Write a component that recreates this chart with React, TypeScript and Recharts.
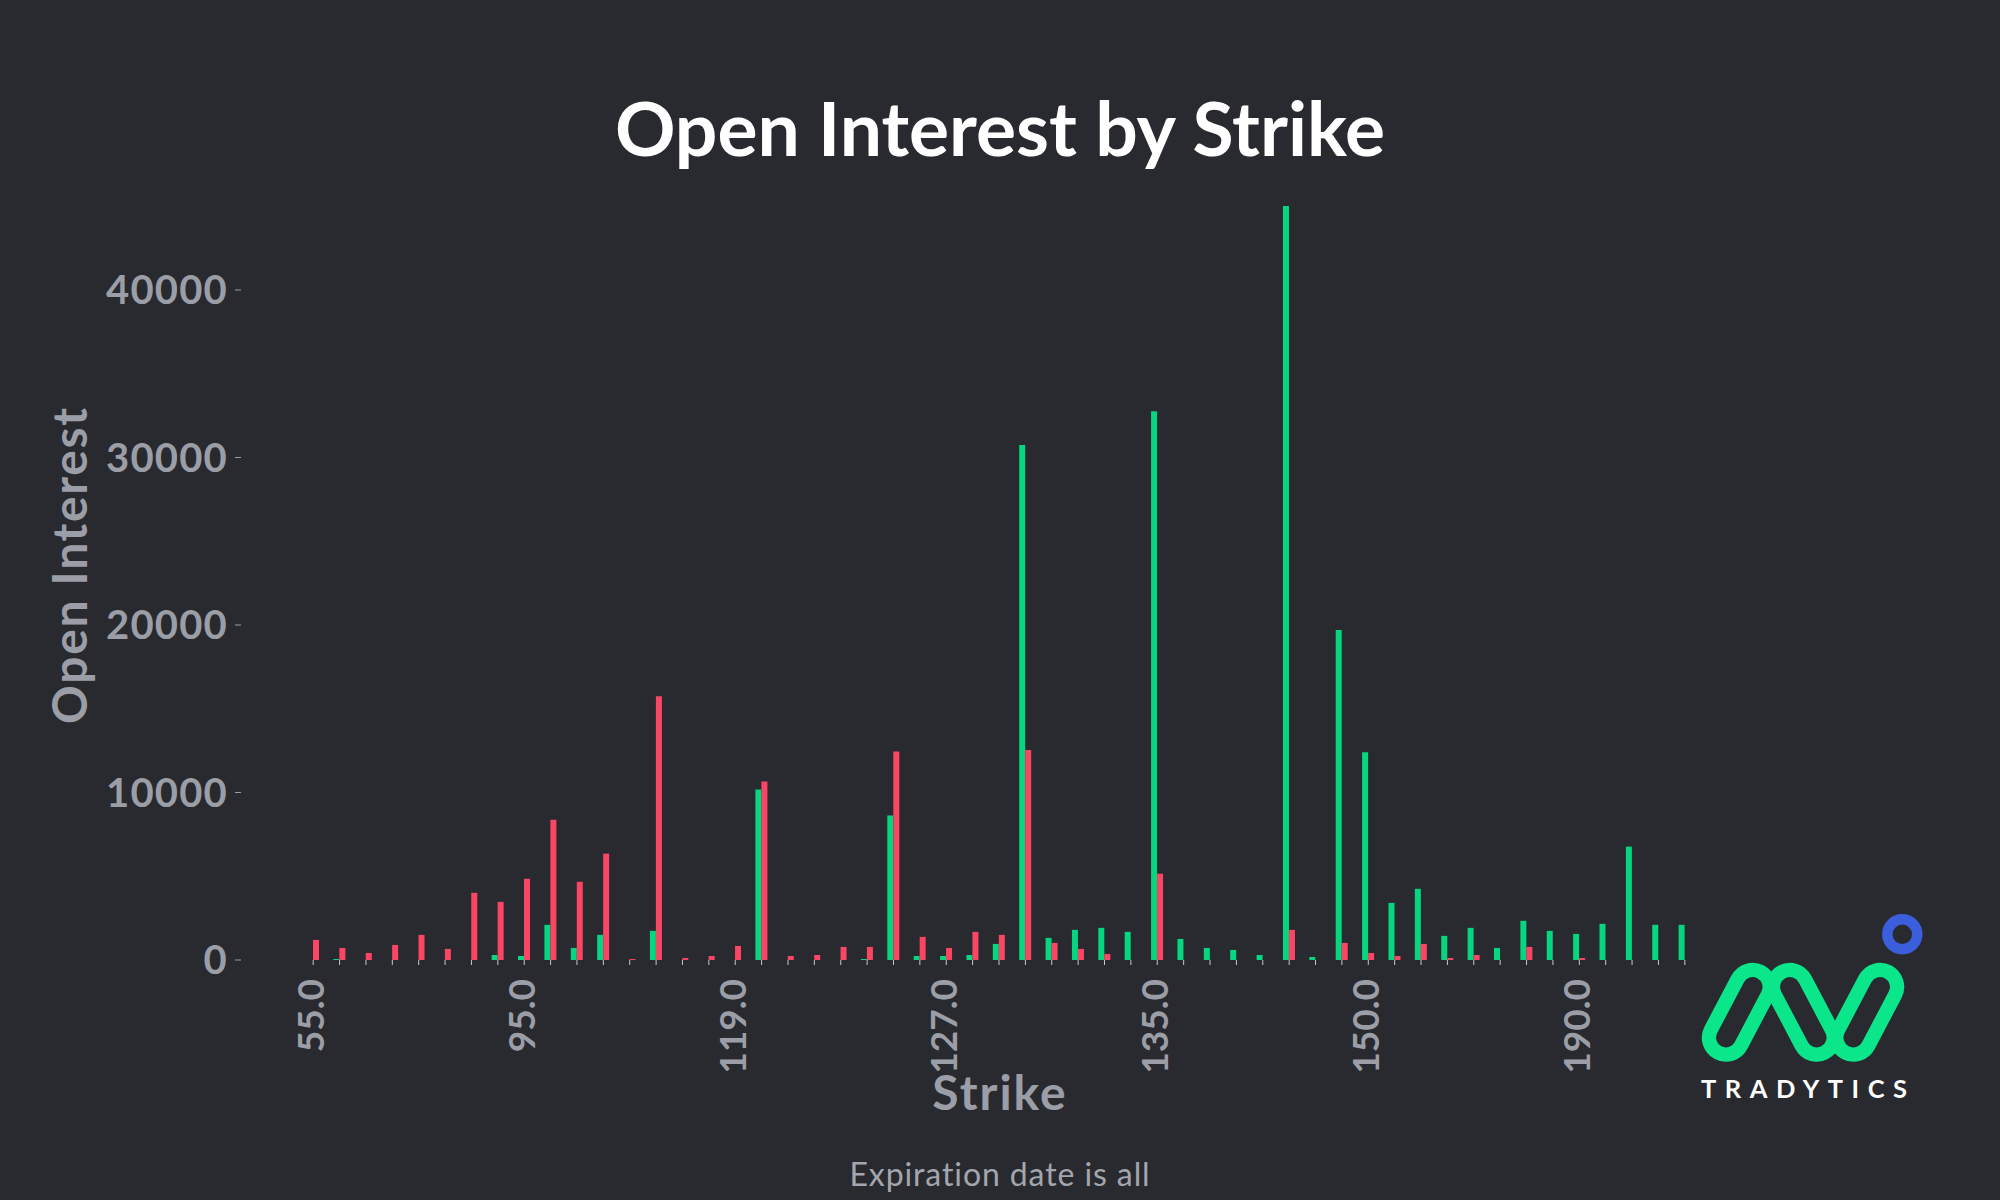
import { BarChart, Bar, XAxis, YAxis } from "recharts"

// strikes on the category axis, one entry per bar pair
const strikes = [
    55, 60, 65, 70, 75, 80, 85, 90, 95, 100, 105, 110, 112, 115, 117, 118, 119,
    120, 121, 122, 123, 124, 125, 126, 127, 128, 129, 130, 131, 132, 133, 134, 135,
    136, 137, 138, 139, 140, 142, 145, 150, 155, 160, 165, 170, 175, 180, 185, 190,
    195, 200, 205, 210,
]

const callOI = [
    0, 60, 0, 0, 0, 0, 0, 300, 240, 2100, 720, 1500, 0, 1740, 0, 0, 0,
    10180, 0, 0, 0, 60, 8620, 240, 240, 300, 960, 30750, 1320, 1800, 1920, 1680, 32760,
    1260, 720, 600, 300, 45010, 180, 19700, 12410, 3410, 4250, 1440, 1920, 720, 2340, 1740, 1560,
    2160, 6770, 2100, 2100,
]

const putOI = [
    1200, 720, 420, 900, 1500, 660, 4010, 3470, 4850, 8380, 4670, 6350, 60, 15750, 120, 240, 840,
    10660, 240, 300, 780, 780, 12450, 1380, 720, 1680, 1500, 12540, 1020, 660, 360, 0, 5150,
    0, 0, 0, 0, 1800, 0, 1020, 420, 240, 960, 120, 300, 0, 780, 0, 120,
    0, 0, 0, 0,
]

const yTicks = [0, 10000, 20000, 30000, 40000]
const labelEvery = 8

const rows = strikes.map((strike, i) => ({ strike, calls: callOI[i], puts: putOI[i] }))

const BG = "#292a2f"
const GREEN = "#06d67f"
const RED = "#fa4565"
const GREY = "#9b9ea6"
const FONT = "Lato, 'Open Sans', sans-serif"

function StrikeTick(props: any) {
    const { x, y, payload, index } = props
    if (index % labelEvery !== 0) return <g />
    return (
        <g transform={`translate(${x},${y})`}>
            <text
                x={-12}
                y={0}
                dy="0.3em"
                textAnchor="end"
                transform="rotate(-90)"
                fill={GREY}
                fontSize={37}
                fontWeight={700}
                fontFamily={FONT}
            >
                {Number(payload.value).toFixed(1)}
            </text>
        </g>
    )
}

function Logo() {
    const pill = { width: 91.3, height: 34, rx: 17, fill: "none", stroke: "#0be68a", strokeWidth: 14.3 }
    return (
        <g>
            <rect {...pill} x={-45.65} y={-17} transform="translate(1739.3,1012.3) rotate(-62.2)" />
            <rect {...pill} x={-45.65} y={-17} transform="translate(1803.3,1012.3) rotate(62.2)" />
            <rect {...pill} x={-45.65} y={-17} transform="translate(1866.7,1012.3) rotate(-62.2)" />
            <circle cx={1902.3} cy={934.3} r={15} fill="none" stroke="#3b5fdc" strokeWidth={10.5} />
            <text
                x={1701}
                y={1098.3}
                fill="#ffffff"
                fontSize={25.5}
                fontWeight={700}
                fontFamily={FONT}
                textLength={206}
                lengthAdjust="spacing"
            >
                TRADYTICS
            </text>
        </g>
    )
}

export default function App() {
    return (
        <div style={{ position: "absolute", left: 0, top: 0, width: 2000, height: 1200, background: BG, overflow: "hidden" }}>
            <BarChart
                width={2000}
                height={1200}
                data={rows}
                margin={{ top: 189.5, right: 245, bottom: 120, left: 0 }}
                barGap={0}
            >
                <XAxis
                    dataKey="strike"
                    interval={0}
                    height={120}
                    axisLine={false}
                    tickSize={5}
                    tickLine={{ stroke: "#c5c8ce" }}
                    tick={(p: any) => <StrikeTick {...p} />}
                    padding={{ left: 59, right: 57 }}
                />
                <YAxis
                    width={241}
                    domain={[0, 46000]}
                    ticks={yTicks}
                    axisLine={false}
                    tickSize={6}
                    tickMargin={7}
                    tickLine={{ stroke: GREY }}
                    tick={{ fill: GREY, fontSize: 40, fontWeight: 700, fontFamily: FONT, letterSpacing: 1.2 }}
                />
                <Bar dataKey="calls" fill={GREEN} barSize={6} isAnimationActive={false} />
                <Bar dataKey="puts" fill={RED} barSize={6} isAnimationActive={false} />
            </BarChart>
            <svg width={2000} height={1200} style={{ position: "absolute", left: 0, top: 0, pointerEvents: "none" }}>
                <text x={1000} y={156} textAnchor="middle" fill="#ffffff" fontSize={75} fontWeight={700} fontFamily={FONT}>
                    Open Interest by Strike
                </text>
                <text x={1000} y={1110} textAnchor="middle" fill={GREY} fontSize={48} fontWeight={700} fontFamily={FONT} letterSpacing={2}>
                    Strike
                </text>
                <text
                    transform="translate(87,565) rotate(-90)"
                    textAnchor="middle"
                    fill={GREY}
                    fontSize={48}
                    fontWeight={700}
                    fontFamily={FONT}
                    letterSpacing={1.7}
                >
                    Open Interest
                </text>
                <text x={1000} y={1186} textAnchor="middle" fill="#a3a6ad" fontSize={32} fontFamily={FONT} letterSpacing={0.9}>
                    Expiration date is all
                </text>
                <Logo />
            </svg>
        </div>
    )
}
